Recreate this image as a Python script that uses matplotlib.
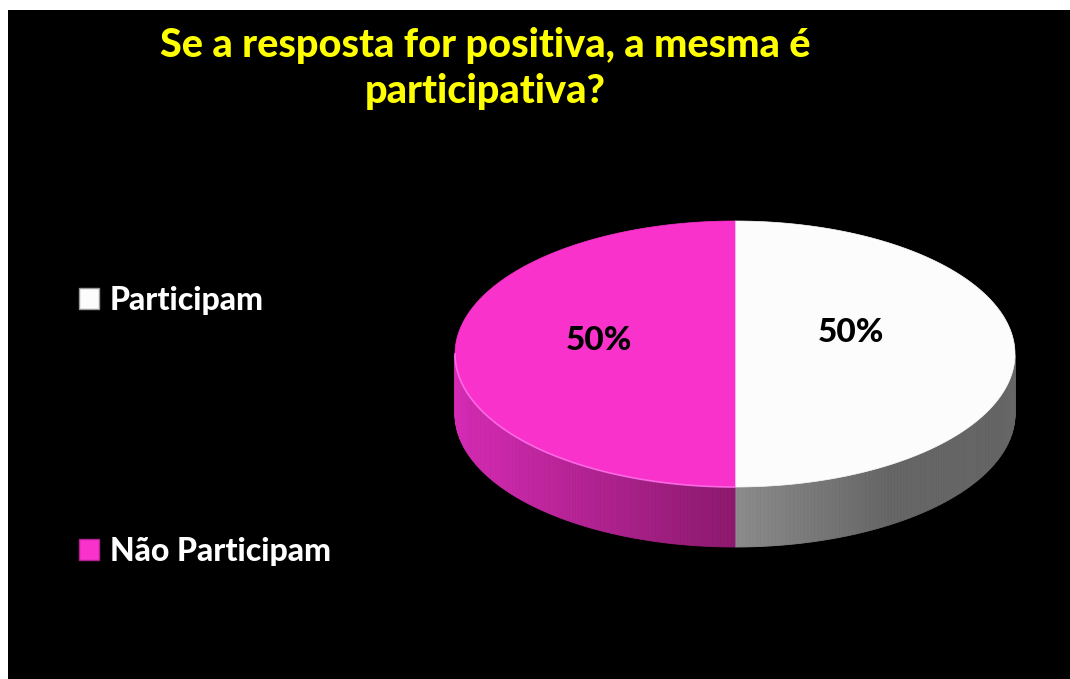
import numpy as np
import matplotlib
matplotlib.use("Agg")
import matplotlib.pyplot as plt
from matplotlib.patches import Polygon, Patch

# dados
labels = ["Participam", "Não Participam"]
values = [50, 50]
top_colors = ["#FCFCFC", "#FA32CC"]
side_light = [(0.55, 0.55, 0.55), (0.84, 0.17, 0.71)]
side_dark = [(0.40, 0.40, 0.40), (0.55, 0.10, 0.43)]
title = "Se a resposta for positiva, a mesma é\nparticipativa?"

W, H = 1070, 679
fig = plt.figure(figsize=(W / 100, H / 100), dpi=100, facecolor="white")

bg = fig.add_axes([8 / W, 0, (W - 8) / W, (H - 10) / H])
bg.set_facecolor("black")
bg.set_xticks([])
bg.set_yticks([])
for s in bg.spines.values():
    s.set_visible(False)

ax = fig.add_axes([0, 0, 1, 1])
ax.set_xlim(0, W)
ax.set_ylim(H, 0)
ax.axis("off")
ax.patch.set_alpha(0)

# geometria do "pie 3D"
cx, cy = 735, 354
a, b = 280, 133
depth = 60


def ell(t):
    t = np.radians(t)
    return cx + a * np.cos(t), cy - b * np.sin(t)


total = sum(values)
start = 90.0
wedges = []
for v in values:
    span = v / total * 360
    wedges.append((start - span, start))  # sentido horário
    start -= span

# paredes laterais (apenas a metade da frente)
for i, (t0, t1) in enumerate(wedges):
    ts = np.linspace(t0, t1, 240)
    for k in range(len(ts) - 1):
        ta, tb = ts[k], ts[k + 1]
        mid = (ta + tb) / 2
        if np.sin(np.radians(mid)) >= 0:
            continue
        xa, ya = ell(ta)
        xb, yb = ell(tb)
        # gradiente horizontal
        f = abs(((xa + xb) / 2 - cx) / a)
        if i == 0:
            f = min(1.0, f * 1.8)
            c = tuple(side_light[i][j] * (1 - f) + side_dark[i][j] * f for j in range(3))
        else:
            c = tuple(side_dark[i][j] * (1 - f) + side_light[i][j] * f for j in range(3))
        ax.add_patch(Polygon([(xa, ya), (xb, yb), (xb, yb + depth), (xa, ya + depth)],
                             closed=True, facecolor=c, edgecolor=c, linewidth=0.6))

# faces superiores
for i, (t0, t1) in enumerate(wedges):
    ts = np.linspace(t0, t1, 200)
    xs, ys = ell(ts)
    pts = [(cx, cy)] + list(zip(xs, ys))
    ax.add_patch(Polygon(pts, closed=True, facecolor=top_colors[i],
                         edgecolor=top_colors[i], linewidth=0.5))

# brilho na borda frontal
ts = np.linspace(180, 270, 100)
xs, ys = ell(ts)
ax.plot(xs, ys, color="#FF77EE", lw=1.2, alpha=0.8)

# rótulos de porcentagem
for i, (t0, t1) in enumerate(wedges):
    mid = (t0 + t1) / 2
    lx = cx - 10 + 0.45 * a * np.cos(np.radians(mid))
    ly = cy - 21 + (8 if i == 1 else 0)
    ax.text(lx, ly, f"{values[i] / total * 100:.0f}%", ha="center", va="center",
            fontsize=24, fontweight="black", family="Lato", color="black")

fig.text(485 / W, 1 - 69 / H, title, ha="center", va="center", fontsize=28.5,
         fontweight="black", family="Lato", color="#FFFF00", linespacing=1.3)

handles = [Patch(facecolor=top_colors[i], edgecolor="#999999" if i == 0 else "#B0208F",
                 linewidth=1.0, label=labels[i]) for i in range(len(labels))]
leg = fig.legend(handles=handles, loc="center left",
                 bbox_to_anchor=(50 / W, 1 - 426 / H), frameon=False,
                 prop={"family": "Lato", "weight": "black", "size": 23},
                 labelcolor="white", labelspacing=6.95, handlelength=0.62,
                 handleheight=0.62, handletextpad=0.35)

fig.savefig("out.png", dpi=100, facecolor="white")
